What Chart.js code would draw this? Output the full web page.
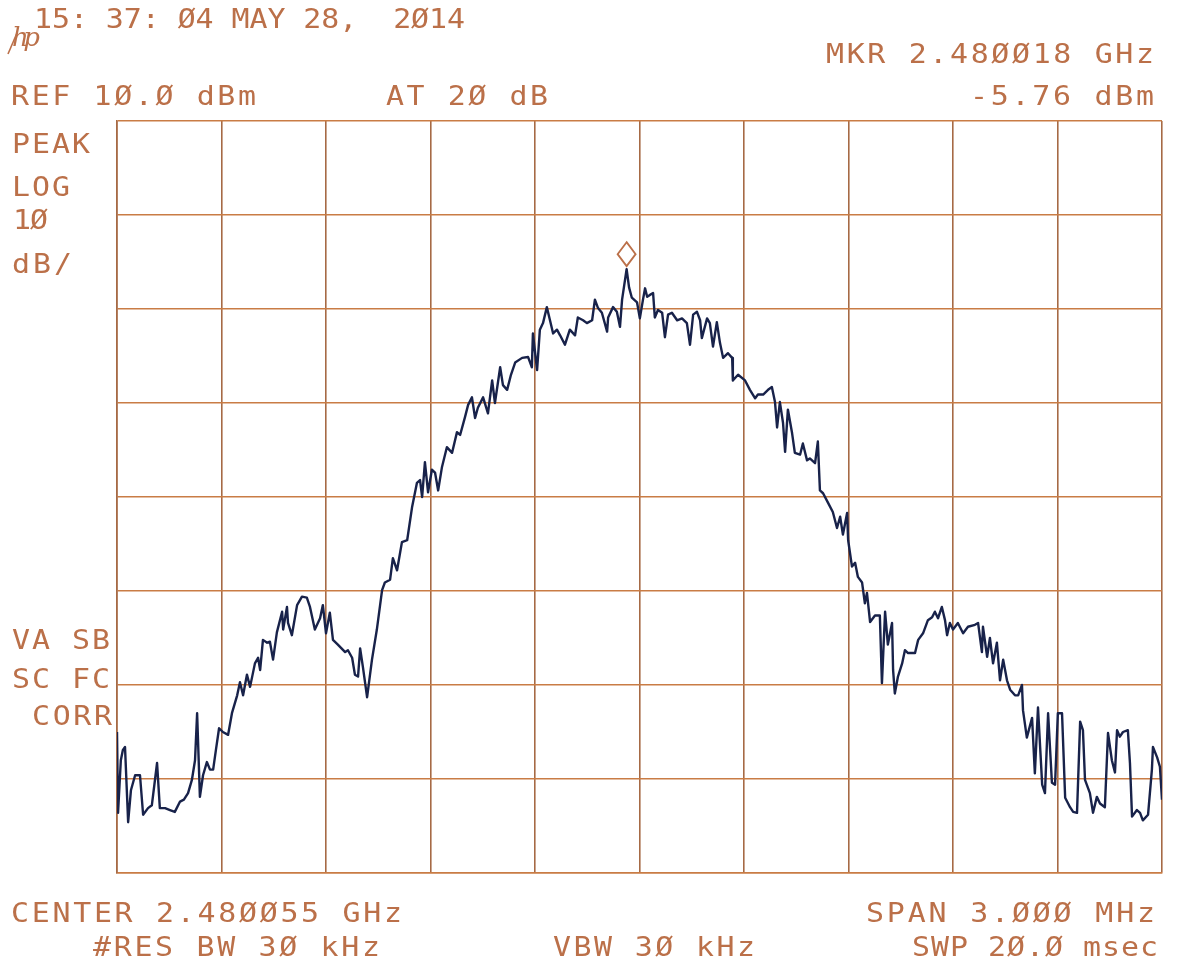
<!DOCTYPE html>
<html>
<head>
<meta charset="utf-8">
<title>Spectrum trace</title>
<script src="https://cdn.jsdelivr.net/npm/chart.js@4"></script>
<style>
  html, body { margin: 0; padding: 0; background: #ffffff; }
  canvas { display: block; }
</style>
</head>
<body>
<canvas id="spectrum" width="1188" height="966"></canvas>
<script>
// Trace: frequency offset from the centre (kHz) and measured level (dBm)
const freqOffsetKHz = [
  -1500,-1497,-1489,-1483,-1477,-1468,-1460,-1448,-1434,-1425,
  -1411,-1400,-1385,-1377,-1362,-1348,-1334,-1319,-1308,-1296,
  -1285,-1276,-1270,-1262,-1253,-1242,-1233,-1224,-1216,-1207,
  -1196,-1181,-1170,-1155,-1147,-1138,-1127,-1118,-1104,-1095,
  -1089,-1081,-1069,-1061,-1052,-1041,-1026,-1023,-1012,-1009,
  -998,-983,-969,-955,-946,-932,-917,-909,-900,-889,
  -880,-866,-845,-837,-825,-817,-808,-802,-794,-782,
  -768,-754,-739,-731,-716,-708,-696,-682,-667,-653,
  -639,-630,-624,-616,-607,-596,-587,-578,-567,-553,
  -538,-524,-515,-501,-492,-481,-472,-464,-449,-435,
  -423,-415,-400,-392,-380,-369,-357,-337,-320,-309,
  -306,-294,-286,-277,-266,-257,-248,-237,-228,-214,
  -200,-185,-177,-162,-151,-136,-128,-119,-108,-93,
  -90,-76,-65,-56,-50,-37,-30,-22,-7,1,
  10,16,22,30,39,44,53,65,73,82,
  93,108,122,136,145,154,165,174,179,194,
  202,211,222,231,240,254,266,268,283,303,
  317,332,340,355,369,380,389,395,403,412,
  418,426,438,446,461,469,481,489,504,512,
  518,527,541,555,567,576,584,596,599,610,
  619,627,639,647,653,662,676,690,696,705,
  713,725,728,733,742,754,762,771,791,800,
  814,828,840,848,857,868,877,883,891,900,
  914,929,943,963,972,983,986,998,1006,1015,
  1026,1035,1044,1055,1064,1078,1087,1098,1101,1112,
  1127,1135,1144,1156,1164,1173,1184,1193,1201,1213,
  1222,1236,1245,1256,1265,1273,1279,1293,1302,1313,
  1322,1336,1345,1356,1365,1371,1379,1388,1402,1408,
  1414,1428,1437,1445,1460,1471,1474,1486,1494,1500
];
const levelDbm = [
  -55.0,-63.6,-58.0,-56.9,-56.6,-64.6,-61.2,-59.6,-59.6,-63.8,
  -63.1,-62.8,-58.3,-63.1,-63.1,-63.3,-63.5,-62.4,-62.2,-61.5,
  -60.1,-58.0,-53.0,-61.9,-59.6,-58.2,-59.0,-59.0,-56.9,-54.6,
  -55.0,-55.3,-53.0,-51.1,-49.7,-51.1,-48.9,-50.2,-47.7,-47.1,
  -48.4,-45.2,-45.5,-45.4,-47.3,-44.4,-42.2,-44.1,-41.7,-43.4,
  -44.7,-41.5,-40.6,-40.7,-41.7,-44.1,-42.9,-41.5,-44.5,-42.3,
  -45.2,-45.7,-46.5,-46.3,-47.1,-48.9,-49.1,-46.1,-48.1,-51.3,
  -47.3,-44.1,-39.9,-39.1,-38.8,-36.5,-37.8,-34.8,-34.6,-31.1,
  -28.5,-28.2,-30.0,-26.3,-29.5,-27.1,-27.4,-29.3,-26.8,-24.7,
  -25.3,-23.1,-23.4,-21.5,-20.2,-19.4,-21.6,-20.5,-19.4,-21.1,
  -17.6,-20.0,-16.2,-18.1,-18.6,-17.0,-15.7,-15.2,-15.1,-16.2,
  -12.6,-16.5,-12.2,-11.5,-9.8,-11.2,-12.6,-12.2,-12.8,-13.8,
  -12.2,-12.8,-10.9,-11.2,-11.5,-11.2,-9.0,-9.9,-10.4,-12.4,
  -10.9,-9.8,-10.3,-11.9,-9.0,-5.76,-7.7,-8.8,-9.3,-11.0,
  -9.0,-7.8,-8.7,-8.5,-8.3,-10.9,-10.1,-10.4,-13.0,-10.6,
  -10.4,-11.2,-11.0,-11.5,-13.8,-10.6,-10.3,-11.2,-13.1,-11.0,
  -11.5,-14.0,-11.4,-13.6,-15.2,-14.7,-15.2,-17.6,-17.0,-17.6,
  -18.6,-19.5,-19.1,-19.1,-18.6,-18.3,-19.9,-22.6,-19.9,-22.1,
  -25.2,-20.7,-23.2,-25.3,-25.5,-24.3,-26.1,-25.9,-26.4,-24.1,
  -29.3,-29.6,-30.6,-31.6,-33.3,-32.1,-34.0,-31.7,-34.6,-37.4,
  -37.0,-38.5,-39.1,-41.3,-40.2,-43.3,-42.6,-42.6,-49.8,-42.2,
  -45.7,-43.4,-48.4,-50.9,-49.1,-47.7,-46.3,-46.6,-46.6,-45.2,
  -44.5,-43.1,-42.8,-42.2,-42.9,-41.7,-43.1,-44.7,-43.4,-44.1,
  -43.4,-44.5,-43.8,-43.6,-43.4,-46.5,-43.8,-47.0,-45.0,-47.7,
  -45.5,-49.5,-47.3,-49.5,-50.5,-51.1,-51.1,-50.0,-52.7,-55.6,
  -53.5,-59.4,-52.4,-60.6,-61.5,-53.0,-60.4,-60.6,-53.0,-53.0,
  -62.0,-63.0,-63.5,-63.6,-53.9,-54.8,-60.1,-61.5,-63.6,-61.9,
  -62.6,-63.0,-55.1,-58.0,-59.3,-54.8,-55.5,-55.0,-54.8,-58.3,
  -64.0,-63.3,-63.6,-64.4,-63.8,-59.0,-56.6,-57.7,-58.7,-62.2
];

// Display settings: reference level, scale and span
const refLevelDbm = 10;
const dbPerDiv = 10;
const verticalDivs = 8;
const spanKHz = 3000;
const horizontalDivs = 10;

// Marker readout
const markerOffsetKHz = -37;   // 2.480018 GHz - 2.480055 GHz
const markerDbm = -5.76;

// Annotation text around the graticule
const headerLines = [
  '15: 37: Ø4 MAY 28,  2Ø14',
  'MKR 2.48ØØ18 GHz',
  'REF 1Ø.Ø dBm',
  'AT 2Ø dB',
  '-5.76 dBm'
];
const sideLines = ['PEAK', 'LOG', '1Ø', 'dB/', 'VA SB', 'SC FC', 'CORR'];
const footerLines = [
  'CENTER 2.48ØØ55 GHz',
  'SPAN 3.ØØØ MHz',
  '#RES BW 3Ø kHz',
  'VBW 3Ø kHz',
  'SWP 2Ø.Ø msec'
];

// Where each annotation sits: left edge, right edge, baseline
const textBoxes = [
  [headerLines[0], 34, 465, 28],
  [headerLines[1], 826, 1154, 63],
  [headerLines[2], 11, 256, 105],
  [headerLines[3], 386, 548, 105],
  [headerLines[4], 970, 1154, 105],
  [sideLines[0], 12, 90, 153],
  [sideLines[1], 12, 70, 196],
  [sideLines[2], 13, 48, 229],
  [sideLines[3], 12, 72, 273],
  [sideLines[4], 12, 110, 649],
  [sideLines[5], 12, 110, 688],
  [sideLines[6], 32, 112, 725],
  [footerLines[0], 11, 402, 922],
  [footerLines[1], 866, 1155, 922],
  [footerLines[2], 93, 380, 956],
  [footerLines[3], 553, 755, 956],
  [footerLines[4], 912, 1158, 956]
];

const INK = '#bb7049';
const GRID_V = '#a66a45';
const GRID_H = '#c97c45';
const TRACE = '#18224a';
const GLYPH_STRETCH = 1.15;

// Spread (slightly widened) glyphs of a string so it spans x0..x1
function drawFitted(ctx, text, x0, x1, baseline, stretch) {
  const chars = Array.from(text);
  const widths = chars.map(ch => ctx.measureText(ch).width * stretch);
  const natural = widths.reduce((a, b) => a + b, 0);
  const gap = chars.length > 1 ? ((x1 - x0) - natural) / (chars.length - 1) : 0;
  let x = x0;
  chars.forEach((ch, i) => {
    ctx.save();
    ctx.translate(x, baseline);
    ctx.scale(stretch, 1);
    ctx.fillText(ch, 0, 0);
    ctx.restore();
    x += widths[i] + gap;
  });
}

const annotationPlugin = {
  id: 'annotations',
  afterDraw(chart) {
    const ctx = chart.ctx;
    ctx.save();
    ctx.fillStyle = INK;
    ctx.textBaseline = 'alphabetic';
    ctx.textAlign = 'left';
    ctx.font = '26px "DejaVu Sans Mono"';
    textBoxes.forEach(([t, x0, x1, y]) => drawFitted(ctx, t, x0, x1, y, GLYPH_STRETCH));
    // instrument logo
    ctx.font = 'italic 26px "DejaVu Serif"';
    drawFitted(ctx, 'hp', 12, 40, 46, 1);
    ctx.lineWidth = 1.6;
    ctx.strokeStyle = INK;
    ctx.beginPath();
    ctx.moveTo(8, 54);
    ctx.lineTo(17, 33);
    ctx.stroke();
    ctx.restore();
  }
};

const markerPlugin = {
  id: 'marker',
  afterDatasetsDraw(chart) {
    const { ctx, scales } = chart;
    const cx = scales.x.getPixelForValue(markerOffsetKHz);
    const tipY = scales.y.getPixelForValue(markerDbm);
    const cy = tipY - 15;
    const hw = 9, hh = 12;
    ctx.save();
    ctx.strokeStyle = INK;
    ctx.lineWidth = 1.8;
    ctx.beginPath();
    ctx.moveTo(cx, cy - hh);
    ctx.lineTo(cx + hw, cy);
    ctx.lineTo(cx, cy + hh);
    ctx.lineTo(cx - hw, cy);
    ctx.closePath();
    ctx.stroke();
    ctx.restore();
  }
};

const points = freqOffsetKHz.map((f, i) => ({ x: f, y: levelDbm[i] }));

new Chart(document.getElementById('spectrum'), {
  type: 'line',
  data: {
    datasets: [{
      data: points,
      borderColor: TRACE,
      borderWidth: 2.4,
      borderJoinStyle: 'round',
      pointRadius: 0,
      tension: 0,
      fill: false
    }]
  },
  options: {
    responsive: false,
    animation: false,
    events: [],
    layout: { padding: { left: 117, top: 121, right: 26, bottom: 93 } },
    plugins: { legend: { display: false }, tooltip: { enabled: false } },
    scales: {
      x: {
        type: 'linear',
        min: -spanKHz / 2,
        max: spanKHz / 2,
        ticks: { display: false, stepSize: spanKHz / horizontalDivs },
        grid: { color: GRID_V, lineWidth: 1.6, drawTicks: false },
        border: { color: GRID_H, width: 1.6 },
        afterFit(scale) { scale.height = 0; }
      },
      y: {
        type: 'linear',
        min: refLevelDbm - dbPerDiv * verticalDivs,
        max: refLevelDbm,
        ticks: { display: false, stepSize: dbPerDiv },
        grid: { color: GRID_H, lineWidth: 1.6, drawTicks: false },
        border: { color: GRID_V, width: 1.6 },
        afterFit(scale) { scale.width = 0; }
      }
    }
  },
  plugins: [markerPlugin, annotationPlugin]
});
</script>
</body>
</html>
